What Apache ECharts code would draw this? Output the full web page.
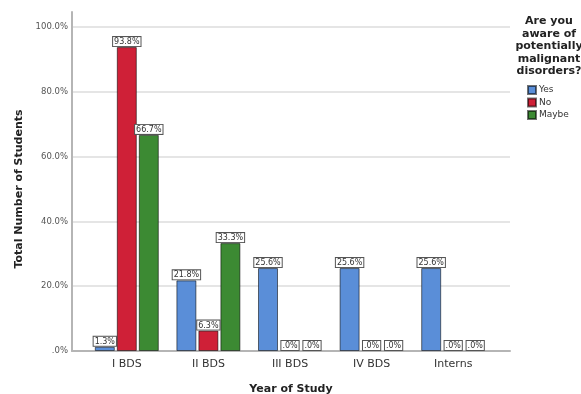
<!DOCTYPE html>
<html>
<head>
<meta charset="utf-8">
<script src="https://cdn.jsdelivr.net/npm/echarts@6/dist/echarts.min.js"></script>
<style>
    html, body {margin: 0; padding: 0; background: #fff;}
    #chart {width: 581px; height: 394px;}
</style>
</head>
<body>
<div id="chart"></div>
<script>
let chart = echarts.init(document.getElementById('chart'));

// 数据
let years = ['I BDS', 'II BDS', 'III BDS', 'IV BDS', 'Interns'];
let yes_values = [1.3, 21.8, 25.6, 25.6, 25.6];
let no_values = [93.8, 6.3, 0, 0, 0];
let maybe_values = [66.7, 33.3, 0, 0, 0];
let y_ticks = [0, 20, 40, 60, 80, 100];

let fontName = 'DejaVu Sans';

// SPSS style: .0% instead of 0.0%
let pct = function (v) {
    return v.toFixed(1).replace(/^0\./, '.') + '%';
};

let barLabel = {
    show: true,
    position: 'top',
    distance: 1,
    fontFamily: fontName,
    fontSize: 8,
    color: '#333',
    backgroundColor: '#fff',
    borderColor: '#555',
    borderWidth: 1,
    padding: [1, 1, 0, 1],
    formatter: function (p) {
        return pct(p.value);
    }
};

let makeSeries = function (name, data, color) {
    return {
        name: name,
        type: 'bar',
        xAxisIndex: 1,
        yAxisIndex: 1,
        // 零值柱不画边框
        data: data.map(v => ({
            value: v,
            itemStyle: v === 0 ? {borderWidth: 0} : undefined
        })),
        barWidth: 20,
        barGap: '10%',
        itemStyle: {
            color: color,
            borderColor: 'rgba(0,0,0,0.55)',
            borderWidth: 1
        },
        label: barLabel
    };
};

let gridBase = {outerBoundsMode: 'none', containLabel: false, top: 27, bottom: 43};

let option = {
    animation: false,
    backgroundColor: '#fff',
    grid: [
        Object.assign({}, gridBase, {left: 72, right: 71}),
        Object.assign({}, gridBase, {left: 86, right: 87}),
        Object.assign({}, gridBase, {left: 72, width: 1, top: 12})
    ],
    xAxis: [
        {
            type: 'category',
            gridIndex: 0,
            data: years,
            axisLine: {lineStyle: {color: '#b5b5b5', width: 2}},
            axisTick: {show: false},
            axisLabel: {show: false},
            name: 'Year of Study',
            nameLocation: 'middle',
            nameGap: 33,
            nameTextStyle: {fontFamily: fontName, fontSize: 11, fontWeight: 'bold', color: '#222'}
        },
        {
            type: 'category',
            gridIndex: 1,
            data: years,
            axisLine: {show: false},
            axisTick: {show: false},
            axisLabel: {margin: 8, fontFamily: fontName, fontSize: 11, color: '#333'}
        },
        {
            type: 'category',
            gridIndex: 2,
            show: false
        }
    ],
    yAxis: [
        {
            type: 'value',
            gridIndex: 0,
            min: y_ticks[0],
            max: y_ticks[y_ticks.length - 1],
            interval: 20,
            axisLine: {show: false},
            axisTick: {show: false},
            splitLine: {lineStyle: {color: '#dcdcdc', width: 1.5}},
            axisLabel: {
                margin: 4,
                fontFamily: fontName,
                fontSize: 8.5,
                color: '#555',
                formatter: function (v) {
                    return pct(v);
                }
            },
            name: 'Total Number of Students',
            nameLocation: 'middle',
            nameGap: 46,
            nameTextStyle: {fontFamily: fontName, fontSize: 11, fontWeight: 'bold', color: '#222'}
        },
        {
            type: 'value',
            gridIndex: 1,
            min: 0,
            max: 100,
            show: false
        },
        {
            type: 'value',
            gridIndex: 2,
            min: 0,
            max: 105,
            axisLine: {show: true, lineStyle: {color: '#b5b5b5', width: 2}},
            axisTick: {show: false},
            axisLabel: {show: false},
            splitLine: {show: false}
        }
    ],
    legend: {
        data: ['Yes', 'No', 'Maybe'],
        orient: 'vertical',
        left: 522,
        top: 85,
        padding: [0, 5],
        itemWidth: 8,
        itemHeight: 8,
        itemGap: 2.5,
        icon: 'rect',
        textStyle: {fontFamily: fontName, fontSize: 9, lineHeight: 8, color: '#333', padding: [0, 0, 0, -2]}
    },
    graphic: [{
        type: 'text',
        x: 549,
        y: 15,
        style: {
            text: 'Are you\naware of\npotentially\nmalignant\ndisorders?',
            fontFamily: fontName,
            fontSize: 11,
            fontWeight: 'bold',
            lineHeight: 12.5,
            fill: '#222',
            align: 'center',
            verticalAlign: 'top'
        }
    }],
    series: [
        makeSeries('Yes', yes_values, '#5a8ed8'),
        makeSeries('No', no_values, '#cf2037'),
        makeSeries('Maybe', maybe_values, '#3c8a33')
    ]
};

chart.setOption(option);
</script>
</body>
</html>
